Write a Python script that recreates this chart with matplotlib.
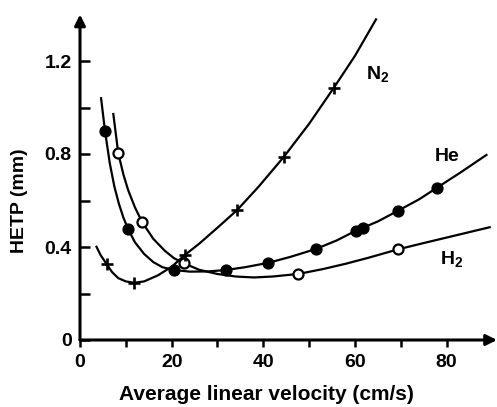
import matplotlib
matplotlib.use("Agg")
import matplotlib.pyplot as plt
from matplotlib.ticker import FixedLocator

plt.rcParams['font.family'] = ['Liberation Sans', 'DejaVu Sans']
plt.rcParams['font.weight'] = 'bold'
plt.rcParams['mathtext.fontset'] = 'custom'
plt.rcParams['mathtext.rm'] = 'Liberation Sans:bold'
plt.rcParams['mathtext.bf'] = 'Liberation Sans:bold'

# ---- data ----
# measured points (markers)
he_u = [5.45, 10.5, 20.6, 31.8, 41.1, 51.4, 60.2, 61.8, 69.4, 77.9]
he_h = [0.90, 0.477, 0.301, 0.301, 0.332, 0.391, 0.470, 0.480, 0.556, 0.655]
h2_u = [8.35, 13.6, 22.7, 47.6, 69.4]
h2_h = [0.803, 0.506, 0.330, 0.284, 0.390]
n2_u = [5.8, 11.8, 22.9, 34.3, 44.5, 55.4]
n2_h = [0.327, 0.246, 0.366, 0.559, 0.788, 1.085]

# traced curves
he_curve_u = [4.6, 5.45, 6.5, 7.5, 8.5, 9.5, 10.5, 12, 14, 16, 18, 20.6, 24, 28, 31.8,
              36, 41.1, 46, 51.4, 56, 60.2, 65, 69.4, 74, 77.9, 83, 88.7]
he_curve_h = [1.04, 0.90, 0.76, 0.66, 0.585, 0.525, 0.477, 0.42, 0.37, 0.335, 0.313, 0.301,
              0.294, 0.295, 0.301, 0.313, 0.332, 0.358, 0.391, 0.428, 0.470, 0.510, 0.556,
              0.605, 0.655, 0.72, 0.796]
h2_curve_u = [7.27, 8.35, 9.5, 10.5, 12, 13.6, 16, 18.5, 20.5, 22.7, 26, 30, 34, 38, 42,
              47.6, 53, 58, 63, 69.4, 75, 82, 89.4]
h2_curve_h = [0.972, 0.803, 0.71, 0.645, 0.570, 0.506, 0.435, 0.384, 0.352, 0.330, 0.302,
              0.284, 0.273, 0.269, 0.273, 0.284, 0.305, 0.328, 0.354, 0.390, 0.417, 0.450, 0.485]
n2_curve_u = [3.6, 4.5, 5.8, 7, 8.35, 10, 11.8, 14, 17, 20, 22.9, 26, 30, 34.3, 39, 44.5,
              50, 55.4, 60, 64.6]
n2_curve_h = [0.401, 0.365, 0.327, 0.292, 0.266, 0.252, 0.246, 0.252, 0.278, 0.315, 0.366,
              0.414, 0.483, 0.559, 0.660, 0.788, 0.930, 1.085, 1.222, 1.379]

x_major = [0, 20, 40, 60, 80]
x_minor = [10, 30, 50, 70]
y_major = [0, 0.4, 0.8, 1.2]
y_minor = [0.2, 0.6, 1.0]
y_labels = ['0', '0.4', '0.8', '1.2']

fig = plt.figure(figsize=(4.97, 4.07), dpi=100)
ax = fig.add_axes([80 / 497, 67 / 407, 417 / 497, 325.5 / 407])
ax.set_xlim(0, 91)
ax.set_ylim(0, 1.40)
for s in ax.spines.values():
    s.set_visible(False)

lw = 1.6
ax.plot(he_curve_u, he_curve_h, color='black', lw=lw, clip_on=False)
ax.plot(h2_curve_u, h2_curve_h, color='black', lw=lw, clip_on=False)
ax.plot(n2_curve_u, n2_curve_h, color='black', lw=lw, clip_on=False)

ax.plot(he_u, he_h, 'o', color='black', ms=7.8, ls='none', zorder=5)
ax.plot(h2_u, h2_h, 'o', mfc='white', mec='black', mew=1.6, ms=7.2, ls='none', zorder=5)
ax.plot(n2_u, n2_h, '+', color='black', ms=9, mew=1.9, ls='none', zorder=5)

# axes with arrows
ax.annotate('', xy=(91, 0), xytext=(0, 0),
            arrowprops=dict(arrowstyle='-|>', lw=2.2, color='black', mutation_scale=16,
                            shrinkA=0, shrinkB=0), annotation_clip=False)
ax.annotate('', xy=(0, 1.40), xytext=(0, 0),
            arrowprops=dict(arrowstyle='-|>', lw=2.2, color='black', mutation_scale=16,
                            shrinkA=0, shrinkB=0), annotation_clip=False)

ax.xaxis.set_major_locator(FixedLocator(x_major))
ax.xaxis.set_minor_locator(FixedLocator(x_minor))
ax.set_yticks(y_major)
ax.set_yticklabels(y_labels)
ax.yaxis.set_minor_locator(FixedLocator(y_minor))
ax.tick_params(axis='x', which='both', direction='out', length=5, width=1.8, pad=5,
               labelsize=14)
ax.tick_params(axis='y', which='both', direction='in', length=7, width=1.8, pad=6,
               labelsize=14)
for lab in ax.get_xticklabels() + ax.get_yticklabels():
    lab.set_fontweight('bold')

fig.text(266.5 / 497, 7 / 407, 'Average linear velocity (cm/s)', fontsize=15,
         fontweight='bold', ha='center', va='baseline')
fig.text(20 / 497, 1 - 200.5 / 407, 'HETP (mm)', fontsize=14, fontweight='bold',
         rotation=90, ha='center', va='center')

ax.text(62.5, 1.14, r'$\mathbf{N}_\mathbf{2}$', fontsize=14, ha='left', va='center')
ax.text(77.5, 0.79, 'He', fontsize=14, fontweight='bold', ha='left', va='center')
ax.text(78.5, 0.345, r'$\mathbf{H}_\mathbf{2}$', fontsize=14, ha='left', va='center')

fig.savefig('out.png', dpi=100)
